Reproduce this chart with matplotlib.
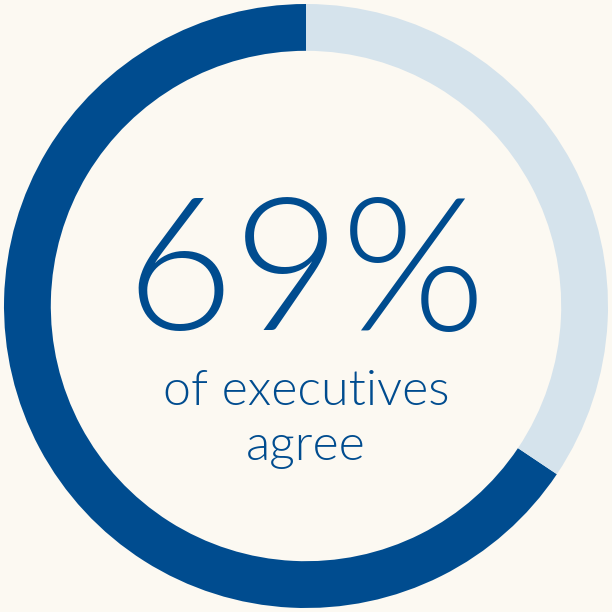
import matplotlib
matplotlib.use("Agg")
import matplotlib.pyplot as plt

# share of the ring as drawn (dark arc, light arc)
labels = ['agree', 'other']
shares = [65.6, 34.4]
colors = ['#004C8F', '#D5E3EC']
big_text = '69%'
sub_lines = ['of executives', 'agree']

bg = '#FCF9F2'
fig = plt.figure(figsize=(6.12, 6.12), dpi=100, facecolor=bg)
ax = fig.add_axes([0, 0, 1, 1])
ax.set_facecolor(bg)

# dark arc goes counter-clockwise from 12 o'clock
ax.pie(shares, colors=colors, startangle=90, counterclock=True, radius=1.0,
       wedgeprops=dict(width=0.155, linewidth=0))

lim = 306 / 302
ax.set_xlim(-lim, lim)
ax.set_ylim(-lim, lim)
ax.set_aspect('equal')
ax.axis('off')

ax.text(0.0, -0.079, big_text, ha='center', va='baseline', fontsize=134,
        family='Lato', fontweight=300, color='#004C8F')
for txt, y in zip(sub_lines, [-0.328, -0.51]):
    ax.text(0.0, y, txt, ha='center', va='baseline', fontsize=36,
            family='Lato', fontweight=300, color='#004C8F')

fig.savefig('out.png', dpi=100, facecolor=bg)
